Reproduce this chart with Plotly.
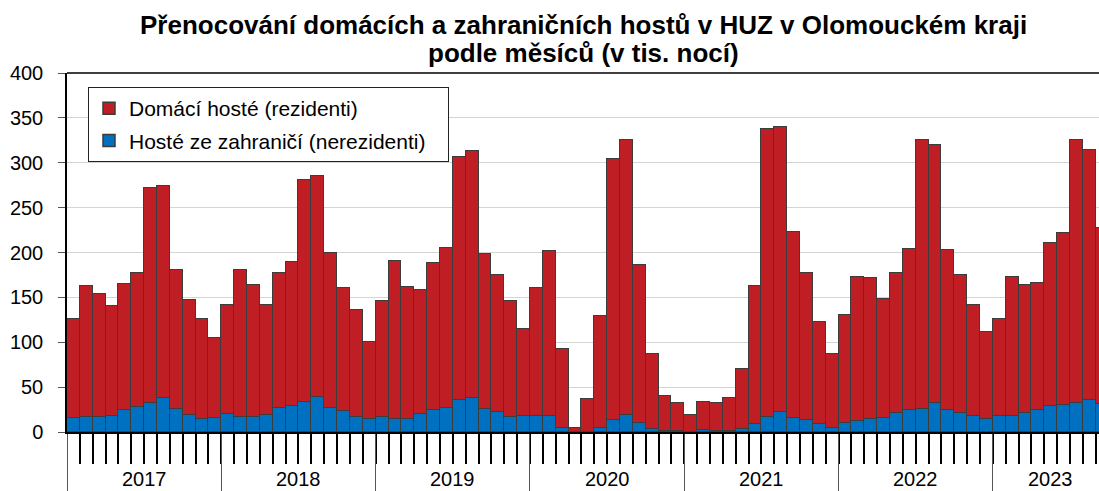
import plotly.graph_objects as go

# ---- data (thousands of nights), Jan 2017 – Sep 2023 ----
years = ["2017", "2018", "2019", "2020", "2021", "2022", "2023"]

domestic_2017 = [110, 146, 137, 122, 141, 149, 240, 236, 155, 128, 111, 89]
domestic_2018 = [122, 164, 147, 123, 150, 160, 248, 246, 173, 138, 119, 85]
domestic_2019 = [129, 176, 148, 138, 163, 178, 270, 275, 172, 153, 129, 97]
domestic_2020 = [142, 184, 89, 4.5, 36.7, 124, 291, 306, 176, 84, 39, 31]
domestic_2021 = [18.5, 31, 31, 37, 67, 154, 321, 318, 207, 164, 114, 83]
domestic_2022 = [120, 161, 157.5, 132, 156, 180, 299, 288, 178, 154, 123, 96]
domestic_2023 = [108.5, 155, 143, 141.5, 182, 192, 293, 278, 196]

foreign_2017 = [16, 17, 17, 18, 24, 28, 32, 38, 26, 19, 15, 16]
foreign_2018 = [20, 17, 17, 19, 27, 29, 33, 39, 27, 23, 17, 15]
foreign_2019 = [17, 15, 14, 20, 25, 27, 36, 38, 26, 22, 17, 18]
foreign_2020 = [18, 18, 4, 0.5, 0.3, 5, 13, 19, 10, 3, 1, 1]
foreign_2021 = [0.5, 2, 1, 1, 3, 9, 17, 22, 16, 13, 9, 4]
foreign_2022 = [10, 12, 14.5, 16, 21, 24, 26, 32, 25, 21, 18, 15]
foreign_2023 = [17.5, 18, 21, 24.5, 29, 30, 32, 36, 31]

title_lines = ["Přenocování domácích a zahraničních hostů v HUZ v Olomouckém kraji",
               "podle měsíců (v tis. nocí)"]
name_domestic = "Domácí hosté (rezidenti)"
name_foreign = "Hosté ze zahraničí (nerezidenti)"

domestic_by_year = [domestic_2017, domestic_2018, domestic_2019, domestic_2020,
                    domestic_2021, domestic_2022, domestic_2023]
foreign_by_year = [foreign_2017, foreign_2018, foreign_2019, foreign_2020,
                   foreign_2021, foreign_2022, foreign_2023]

domestic = [v for ys in domestic_by_year for v in ys]
foreign = [v for ys in foreign_by_year for v in ys]
x = list(range(len(domestic)))

FONT = "Liberation Sans, Arial, sans-serif"
RED = "#BE1E24"
BLUE = "#0070C0"
EDGE = "#3c3c3c"
PAD = "\u00a0\u00a0\u00a0"

fig = go.Figure()
fig.add_trace(go.Bar(x=x, y=foreign, name=name_foreign + PAD,
                     legendgroup="f", legendrank=2,
                     marker=dict(color=BLUE, line=dict(color=EDGE, width=1.5))))
fig.add_trace(go.Bar(x=x, y=domestic, name=name_domestic,
                     legendgroup="d", legendrank=1,
                     marker=dict(color=RED, line=dict(color=EDGE, width=1.5))))

# year boundaries and month boundaries
year_bounds = []
month_bounds = []
year_centers = []
start = 0
for ys in domestic_by_year:
    year_bounds.append(start - 0.5)
    for k in range(1, len(ys)):
        month_bounds.append(start + k - 0.5)
    year_centers.append(start + (len(ys) - 1) / 2)
    start += len(ys)
    month_bounds.append(start - 0.5)

for yr, c in zip(years, year_centers):
    fig.add_annotation(x=c, y=-0.131, xref="x", yref="paper", text=yr,
                       showarrow=False, font=dict(size=20, color="#000", family=FONT),
                       xanchor="center", yanchor="middle")

for line, yp in zip(title_lines, [1.135, 1.055]):
    fig.add_annotation(x=0.5, y=yp, xref="paper", yref="paper", text="<b>" + line + "</b>",
                       showarrow=False, font=dict(size=26, color="#000", family=FONT),
                       xanchor="center", yanchor="middle")

fig.add_shape(type="line", xref="paper", yref="paper", x0=0, x1=1, y0=1, y1=1,
              line=dict(color="#000", width=1.5))

fig.update_layout(
    width=1099, height=491,
    margin=dict(l=67, r=0, t=73, b=59, autoexpand=False),
    paper_bgcolor="white", plot_bgcolor="white",
    barmode="stack", bargap=0,
    font=dict(family=FONT, color="#000"),
    showlegend=True,
    legend=dict(x=(88 - 67) / 1032, y=1 - (87 - 73) / 359, xanchor="left", yanchor="top",
                traceorder="grouped", tracegroupgap=2,
                bgcolor="white", bordercolor="#222", borderwidth=1,
                font=dict(size=21, family=FONT, color="#000")),
    xaxis=dict(range=[-0.5, 79.75], showgrid=False, zeroline=False, automargin=False,
               showline=True, linecolor="#000", linewidth=2,
               tickmode="array", tickvals=year_bounds, ticks="outside", ticklen=60,
               tickcolor="#555", tickwidth=1, showticklabels=False,
               minor=dict(tickmode="array", tickvals=month_bounds, ticks="outside",
                          ticklen=30, tickcolor="#000", tickwidth=1.5, showgrid=False)),
    yaxis=dict(range=[0, 400], dtick=50, showgrid=True, gridcolor="#d4d4d4", gridwidth=1,
               zeroline=False, showline=True, linecolor="#000", linewidth=1.5,
               automargin=False,
               ticks="outside", ticklen=7, tickcolor="#555", tickwidth=1,
               ticklabelstandoff=11,
               tickfont=dict(size=20, family=FONT, color="#000")),
)

# remove the browser's default page margin so the figure sits at the window's corner
fig.write_html("out.html",
               config={"displayModeBar": False},
               post_script="document.body.style.margin='0';document.body.style.overflow='hidden';")
